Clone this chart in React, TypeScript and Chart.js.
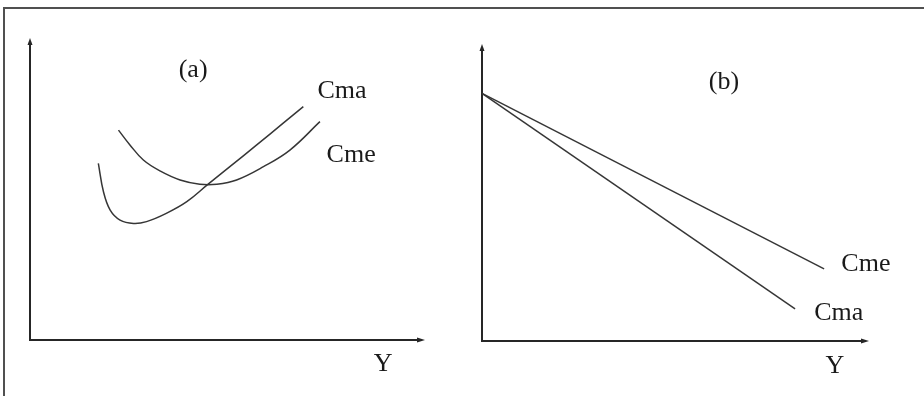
import React, { useEffect, useRef } from "react";
import { Chart, registerables } from "chart.js";

Chart.register(...registerables);

// Panel (a): U-shaped cost curves (x = output Y, y = cost), scale 0..100
const A_CMA_X = [17.3, 18.6, 20.3, 22.8, 26.2, 29.5, 34.6, 39.7, 45.1, 50.6, 57.4, 64.1, 69.2];
const A_CMA_Y = [58.5, 49.1, 43.0, 39.7, 38.6, 39.2, 42.0, 45.8, 51.6, 57.4, 64.6, 71.8, 77.3];
const A_CME_X = [22.4, 25.3, 28.7, 32.9, 38.0, 43.0, 47.3, 52.3, 59.1, 65.8, 73.4];
const A_CME_Y = [69.5, 64.6, 59.6, 56.0, 53.0, 51.6, 51.6, 53.0, 57.4, 62.9, 72.3];

// Panel (b): falling straight cost lines
const B_CME_X = [0, 88.4];
const B_CME_Y = [83.4, 24.3];
const B_CMA_X = [0, 80.9];
const B_CMA_Y = [83.4, 10.8];

// Text labels (text, x, y in data units)
const A_LABELS: [string, number, number][] = [
  ["(a)", 41.3, 89.4],
  ["Cma", 79.0, 82.5],
  ["Cme", 81.3, 61.3],
  ["Y", 89.4, -7.9],
];
const B_LABELS: [string, number, number][] = [
  ["(b)", 62.5, 87.2],
  ["Cme", 99.2, 26.0],
  ["Cma", 92.2, 9.5],
  ["Y", 91.2, -8.4],
];

const INK = "#262626";
const CURVE = "#363636";

const toPts = (xs: number[], ys: number[]) => xs.map((x, i) => ({ x, y: ys[i] }));

const axesPlugin = {
  id: "econAxes",
  beforeDatasetsDraw(chart: any) {
    const { ctx, chartArea } = chart;
    const xs = chart.scales.x;
    const ys = chart.scales.y;
    const x0 = xs.getPixelForValue(0);
    const y0 = ys.getPixelForValue(0);
    const top = chartArea.top;
    const right = chartArea.right;
    ctx.save();
    ctx.strokeStyle = INK;
    ctx.fillStyle = INK;
    ctx.lineWidth = 2;
    ctx.beginPath();
    ctx.moveTo(x0, y0 + 1);
    ctx.lineTo(x0, top + 3);
    ctx.moveTo(x0 - 1, y0);
    ctx.lineTo(right - 3, y0);
    ctx.stroke();
    // arrowheads
    ctx.beginPath();
    ctx.moveTo(x0, top);
    ctx.lineTo(x0 - 2.5, top + 7);
    ctx.lineTo(x0 + 2.5, top + 7);
    ctx.closePath();
    ctx.fill();
    ctx.beginPath();
    ctx.moveTo(right, y0);
    ctx.lineTo(right - 8, y0 - 2.5);
    ctx.lineTo(right - 8, y0 + 2.5);
    ctx.closePath();
    ctx.fill();
    ctx.restore();
  },
  afterDraw(chart: any, _args: any, opts: any) {
    const { ctx } = chart;
    const xs = chart.scales.x;
    const ys = chart.scales.y;
    ctx.save();
    ctx.fillStyle = "#1a1a1a";
    ctx.font = '26px "Liberation Serif", "DejaVu Serif", serif';
    ctx.textAlign = "center";
    ctx.textBaseline = "middle";
    (opts.items || []).forEach((it: [string, number, number]) => {
      ctx.fillText(it[0], xs.getPixelForValue(it[1]), ys.getPixelForValue(it[2]));
    });
    ctx.restore();
  },
};

function makeConfig(datasets: any[], labels: any[], padding: any) {
  return {
    type: "scatter" as const,
    data: { datasets },
    options: {
      animation: false,
      responsive: false,
      events: [],
      layout: { padding },
      scales: {
        x: { type: "linear", min: 0, max: 100, display: false },
        y: { type: "linear", min: 0, max: 100, display: false },
      },
      plugins: {
        legend: { display: false },
        tooltip: { enabled: false },
        econAxes: { items: labels },
      },
    },
    plugins: [axesPlugin],
  };
}

const lineDs = (data: any[], curved: boolean) => ({
  data,
  showLine: true,
  borderColor: CURVE,
  borderWidth: 1.5,
  pointRadius: 0,
  fill: false,
  clip: false,
  tension: curved ? 0.4 : 0,
});

export default function App() {
  const refA = useRef<HTMLCanvasElement>(null);
  const refB = useRef<HTMLCanvasElement>(null);

  useEffect(() => {
    const ca = new Chart(
      refA.current as HTMLCanvasElement,
      makeConfig(
        [lineDs(toPts(A_CMA_X, A_CMA_Y), true), lineDs(toPts(A_CME_X, A_CME_Y), true)],
        A_LABELS,
        { left: 30, right: 37, top: 38, bottom: 56 }
      ) as any
    );
    const cb = new Chart(
      refB.current as HTMLCanvasElement,
      makeConfig(
        [lineDs(toPts(B_CME_X, B_CME_Y), false), lineDs(toPts(B_CMA_X, B_CMA_Y), false)],
        B_LABELS,
        { left: 20, right: 55, top: 44, bottom: 55 }
      ) as any
    );
    return () => {
      ca.destroy();
      cb.destroy();
    };
  }, []);

  return (
    <div
      style={{
        position: "absolute",
        left: 0,
        top: 0,
        width: 924,
        height: 396,
        background: "#ffffff",
        overflow: "hidden",
      }}
    >
      <div
        style={{
          position: "absolute",
          left: 3,
          top: 7,
          width: 921,
          height: 389,
          borderTop: "2px solid #505050",
          borderLeft: "2px solid #505050",
          boxSizing: "border-box",
        }}
      />
      <canvas
        ref={refA}
        width={462}
        height={396}
        style={{ position: "absolute", left: 0, top: 0, width: 462, height: 396 }}
      />
      <canvas
        ref={refB}
        width={462}
        height={396}
        style={{ position: "absolute", left: 462, top: 0, width: 462, height: 396 }}
      />
    </div>
  );
}
